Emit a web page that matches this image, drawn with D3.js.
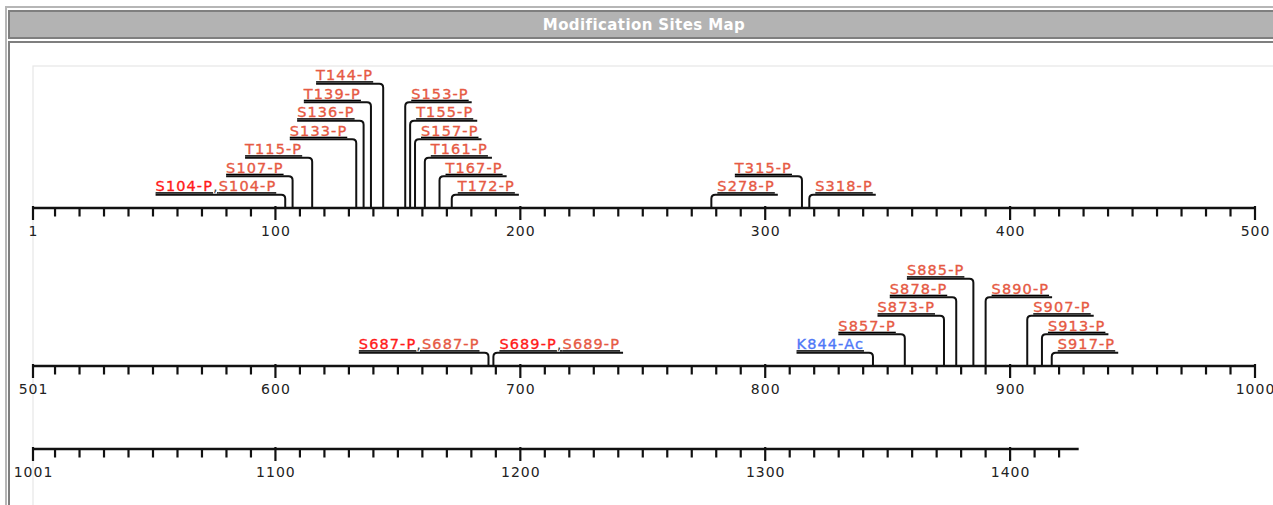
<!DOCTYPE html>
<html>
<head>
<meta charset="utf-8">
<script src="https://cdn.jsdelivr.net/npm/d3@7"></script>
<style>
  html, body { margin: 0; padding: 0; background: #fff; overflow: hidden; }
  .site-label { font-family: "DejaVu Sans", sans-serif; font-size: 14.5px; letter-spacing: 1.1px; text-decoration: underline; stroke-width: 0.35px; }
  .tick-label { font-family: "DejaVu Sans", sans-serif; font-size: 14px; letter-spacing: 1px; fill: #222; }
  .title { font-family: "DejaVu Sans", sans-serif; font-weight: bold; font-size: 15px; letter-spacing: 0.4px; fill: #fff; }
</style>
</head>
<body>
<svg id="chart" width="1273" height="505"></svg>
<script>
// Sequence rows of 500 residues each, protein length
const rowStarts = [1, 501, 1001];
const proteinLength = 1428;

// Modification sites
const siteLabels = [
  'S104-P,S104-P', 'S107-P', 'T115-P', 'S133-P', 'S136-P', 'T139-P', 'T144-P',
  'S153-P', 'T155-P', 'S157-P', 'T161-P', 'T167-P', 'T172-P',
  'S278-P', 'T315-P', 'S318-P',
  'S687-P,S687-P', 'S689-P,S689-P', 'K844-Ac', 'S857-P', 'S873-P', 'S878-P',
  'S885-P', 'S890-P', 'S907-P', 'S913-P', 'S917-P'
];
const sitePositions = [
  104, 107, 115, 133, 136, 139, 144,
  153, 155, 157, 161, 167, 172,
  278, 315, 318,
  687, 689, 844, 857, 873, 878,
  885, 890, 907, 913, 917
];
// stacking level of each label above the axis, and which side of its site it sits
const siteLevels = [
  1, 2, 3, 4, 5, 6, 7,
  6, 5, 4, 3, 2, 1,
  1, 2, 1,
  1, 1, 1, 2, 3, 4,
  5, 4, 3, 2, 1
];
const siteSides = [
  'L', 'L', 'L', 'L', 'L', 'L', 'L',
  'R', 'R', 'R', 'R', 'R', 'R',
  'R', 'L', 'R',
  'L', 'R', 'L', 'L', 'L', 'L',
  'L', 'R', 'R', 'R', 'R'
];

const colors = {
  first: '#ff1a1a',
  phospho: '#e65a44',
  acetyl: '#4f78f7',
  line: '#111'
};

// layout
const W = 1273, H = 505;
const rowAxisY = [208, 366, 449];
const left = 33, right = 1255;
const levelGap = 18.5, level1Offset = 13.3, radius = 4;

const svg = d3.select('#chart');

// * * * frame * * *
svg.append('rect').attr('x', 0).attr('y', 0).attr('width', W).attr('height', H).attr('fill', '#fff');
// outer light border
svg.append('line').attr('x1', 5).attr('x2', W).attr('y1', 7).attr('y2', 7)
  .attr('stroke', '#b6b6b6').attr('stroke-width', 2);
svg.append('line').attr('x1', 6).attr('x2', 6).attr('y1', 6).attr('y2', H)
  .attr('stroke', '#b6b6b6').attr('stroke-width', 2);
// header bar
svg.append('rect').attr('x', 9).attr('y', 11).attr('width', W + 10).attr('height', 27)
  .attr('fill', '#b3b3b3').attr('stroke', '#7f7f7f').attr('stroke-width', 2);
svg.append('text').attr('class', 'title')
  .attr('x', 644).attr('y', 30).attr('text-anchor', 'middle')
  .text('Modification Sites Map');
// content box
svg.append('line').attr('x1', 8).attr('x2', W).attr('y1', 42).attr('y2', 42)
  .attr('stroke', '#7f7f7f').attr('stroke-width', 2);
svg.append('line').attr('x1', 9).attr('x2', 9).attr('y1', 41).attr('y2', H)
  .attr('stroke', '#7f7f7f').attr('stroke-width', 2);
// faint inner panel
svg.append('rect').attr('x', 33).attr('y', 66).attr('width', W).attr('height', H)
  .attr('fill', 'none').attr('stroke', '#e6e6e6').attr('stroke-width', 1.2);

// * * * axes * * *
const scales = rowStarts.map((start) => {
  return d3.scaleLinear().domain([start, start + 499]).range([left, right]);
});

rowStarts.forEach((start, i) => {
  const x = scales[i];
  const y = rowAxisY[i];
  const end = Math.min(start + 499, proteinLength);
  const g = svg.append('g').attr('class', 'axis');

  g.append('line')
    .attr('x1', x(start)).attr('x2', x(end))
    .attr('y1', y).attr('y2', y)
    .attr('stroke', colors.line).attr('stroke-width', 2.4);

  const ticks = [start].concat(d3.range(start + 9, end + 1, 10));
  const isMajor = (d) => d === start || d % 100 === 0;

  g.selectAll('line.tick')
    .data(ticks)
    .join('line')
    .attr('class', 'tick')
    .attr('x1', (d) => x(d)).attr('x2', (d) => x(d))
    .attr('y1', (d) => isMajor(d) ? y - 2 : y)
    .attr('y2', (d) => isMajor(d) ? y + 12 : y + 8.5)
    .attr('stroke', colors.line).attr('stroke-width', 2.2);

  g.selectAll('text.tick-label')
    .data(ticks.filter(isMajor))
    .join('text')
    .attr('class', 'tick-label')
    .attr('x', (d) => x(d) + 0.5)
    .attr('y', y + 28)
    .attr('text-anchor', 'middle')
    .text((d) => d);
});

// * * * site labels * * *
const sites = siteLabels.map((label, i) => ({
  label,
  pos: sitePositions[i],
  level: siteLevels[i],
  side: siteSides[i],
  row: Math.floor((sitePositions[i] - 1) / 500)
}));

sites.forEach((d) => {
  const x = scales[d.row](d.pos);
  const axisY = rowAxisY[d.row];
  const ly = axisY - level1Offset - (d.level - 1) * levelGap;
  const g = svg.append('g').attr('class', 'site');

  const text = g.append('text').attr('class', 'site-label').attr('y', ly - 3.5);
  const parts = d.label.split(',');
  parts.forEach((p, j) => {
    let fill = colors.phospho;
    if (/-Ac$/.test(p)) fill = colors.acetyl;
    else if (parts.length > 1 && j === 0) fill = colors.first;
    text.append('tspan').attr('fill', fill).attr('stroke', fill).text(p);
    if (j < parts.length - 1) text.append('tspan').attr('fill', '#444').text(',');
  });

  const tw = text.node().getBBox().width;
  let path;
  if (d.side === 'L') {
    const x0 = x - tw - 9;
    text.attr('x', x0);
    path = `M${x0},${ly} H${x - radius} Q${x},${ly} ${x},${ly + radius} V${axisY}`;
  } else {
    text.attr('x', x + 6);
    path = `M${x},${axisY} V${ly + radius} Q${x},${ly} ${x + radius},${ly} H${x + tw + 9}`;
  }
  g.append('path')
    .attr('d', path)
    .attr('fill', 'none')
    .attr('stroke', colors.line)
    .attr('stroke-width', 2);
});
</script>
</body>
</html>
